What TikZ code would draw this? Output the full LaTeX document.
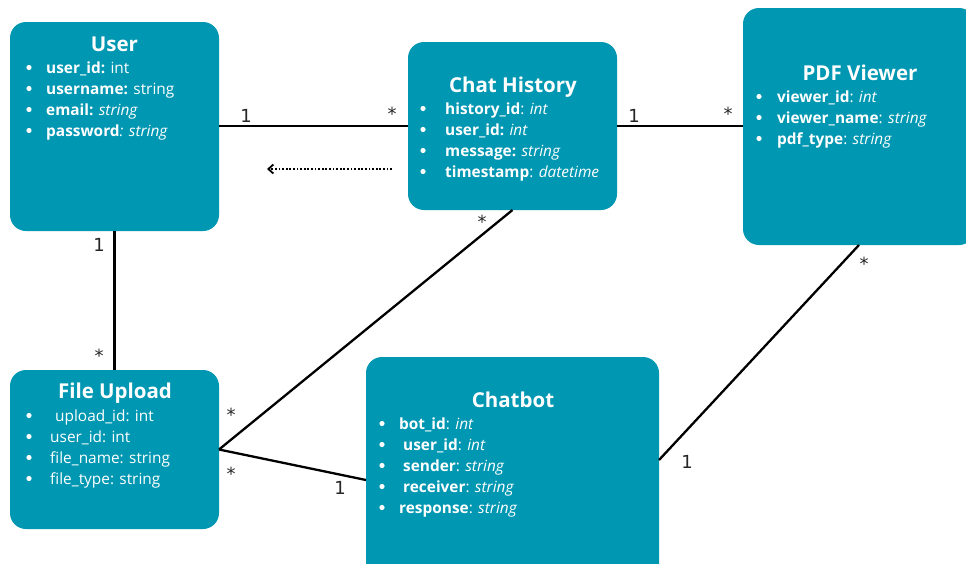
\documentclass[tikz,border=0pt]{standalone}
\usepackage{fontspec}
\setmainfont{Open Sans}
\newfontfamily\multfont{DejaVu Sans}
\usetikzlibrary{arrows.meta}
\definecolor{entityfill}{HTML}{0097B2}
\tikzset{
  entity/.style={fill=entityfill, rounded corners=16pt, anchor=north west,
    inner sep=0pt, outer sep=0pt},
  etitle/.style={text=white, font=\fontsize{20.5}{24}\selectfont\bfseries,
    anchor=base, inner sep=0pt},
  attr/.style={text=white, font=\fontsize{15.4}{18}\selectfont,
    anchor=base west, inner sep=0pt},
  link/.style={line width=2.3pt, black},
  mult/.style={font=\multfont\fontsize{18}{18}\selectfont, inner sep=0pt,
    text=black!85}
}
% one attribute row: name, bullet x, text x, baseline y, text
\newcommand\attrline[5]{%
  \fill[white] (#2,#4-5.5) circle (2.6pt);
  \node[attr] (#1) at (#3,#4) {#5};}

\begin{document}
\begin{tikzpicture}[x=1pt,y=-1pt]
\useasboundingbox (0,0) rectangle (966,563);
\fill[white] (0,0) rectangle (966,563);

% entities
\node[entity, minimum width=209pt, minimum height=209pt] (user) at (10,22) {};
\node[entity, minimum width=209pt, minimum height=168pt] (chat) at (408,42) {};
\node[entity, minimum width=232pt, minimum height=237pt] (pdf) at (743,8) {};
\node[entity, minimum width=209pt, minimum height=159pt] (file) at (10,370) {};
\node[entity, minimum width=293pt, minimum height=246pt] (bot) at (366,357) {};

% User
\node[etitle] (usertitle) at (114.5,51) {User};
\attrline{u1}{29}{46}{73}{\textbf{user\_id:} int}
\attrline{u2}{29}{46}{94}{\textbf{username:} string}
\attrline{u3}{29}{46}{115}{\textbf{email:} \textit{string}}
\attrline{u4}{29}{46}{136}{\textbf{password}\textit{: string}}

% Chat History
\node[etitle] (chattitle) at (513,92) {Chat History};
\attrline{c1}{423}{445}{114}{\textbf{history\_id}: \textit{int}}
\attrline{c2}{423}{445}{135}{\textbf{user\_id:} \textit{int}}
\attrline{c3}{423}{445}{156}{\textbf{message:} \textit{string}}
\attrline{c4}{423}{445}{177}{\textbf{timestamp}: \textit{datetime}}

% PDF Viewer
\node[etitle] (pdftitle) at (860,80) {PDF Viewer};
\attrline{p1}{759}{777}{102}{\textbf{viewer\_id}: \textit{int}}
\attrline{p2}{759}{777}{123}{\textbf{viewer\_name}: \textit{string}}
\attrline{p3}{759}{777}{144}{\textbf{pdf\_type}: \textit{string}}

% File Upload
\node[etitle] (filetitle) at (115,398) {File Upload};
\attrline{f1}{29}{55}{421}{upload\_id: int}
\attrline{f2}{29}{50}{442}{user\_id: int}
\attrline{f3}{29}{50}{463}{file\_name: string}
\attrline{f4}{29}{50}{484}{file\_type: string}

% Chatbot
\node[etitle] (bottitle) at (513,407) {Chatbot};
\attrline{b1}{382}{399}{429}{\textbf{bot\_id}: \textit{int}}
\attrline{b2}{382}{403}{450}{\textbf{user\_id}: \textit{int}}
\attrline{b3}{382}{403}{471}{\textbf{sender}: \textit{string}}
\attrline{b4}{382}{403}{492}{\textbf{receiver}: \textit{string}}
\attrline{b5}{382}{399}{513}{\textbf{response}: \textit{string}}

% associations
\draw[link] (chat.west -| user.east) -- (chat.west);
\draw[link] (chat.east) -- (chat.east -| pdf.west);
\draw[link] (user.south) -- (file.north);
\draw[link] (file.east) -- (chat.south);
\draw[link] (file.east) -- (bot.west);
\draw[link] ([yshift=20pt]bot.east) -- (pdf.south);

% dependency arrow
\coordinate (depfrom) at (392,169);
\coordinate (depto) at (267,169);
\draw[line width=1.8pt, dash pattern=on 1.8pt off 1.8pt,
  -{Straight Barb[length=5pt,width=9pt]}] (depfrom) -- (depto);

% multiplicities
\node[mult] (m1) at (246,116) {1};
\node[mult] (m2) at (392,114) {*};
\node[mult] (m3) at (634,116) {1};
\node[mult] (m4) at (728,114) {*};
\node[mult] (m5) at (99,245) {1};
\node[mult] (m6) at (99,356) {*};
\node[mult] (m7) at (231,415) {*};
\node[mult] (m8) at (231,474) {*};
\node[mult] (m9) at (340,488) {1};
\node[mult] (m10) at (482,222) {*};
\node[mult] (m11) at (864,264) {*};
\node[mult] (m12) at (687,462) {1};
\end{tikzpicture}
\end{document}
